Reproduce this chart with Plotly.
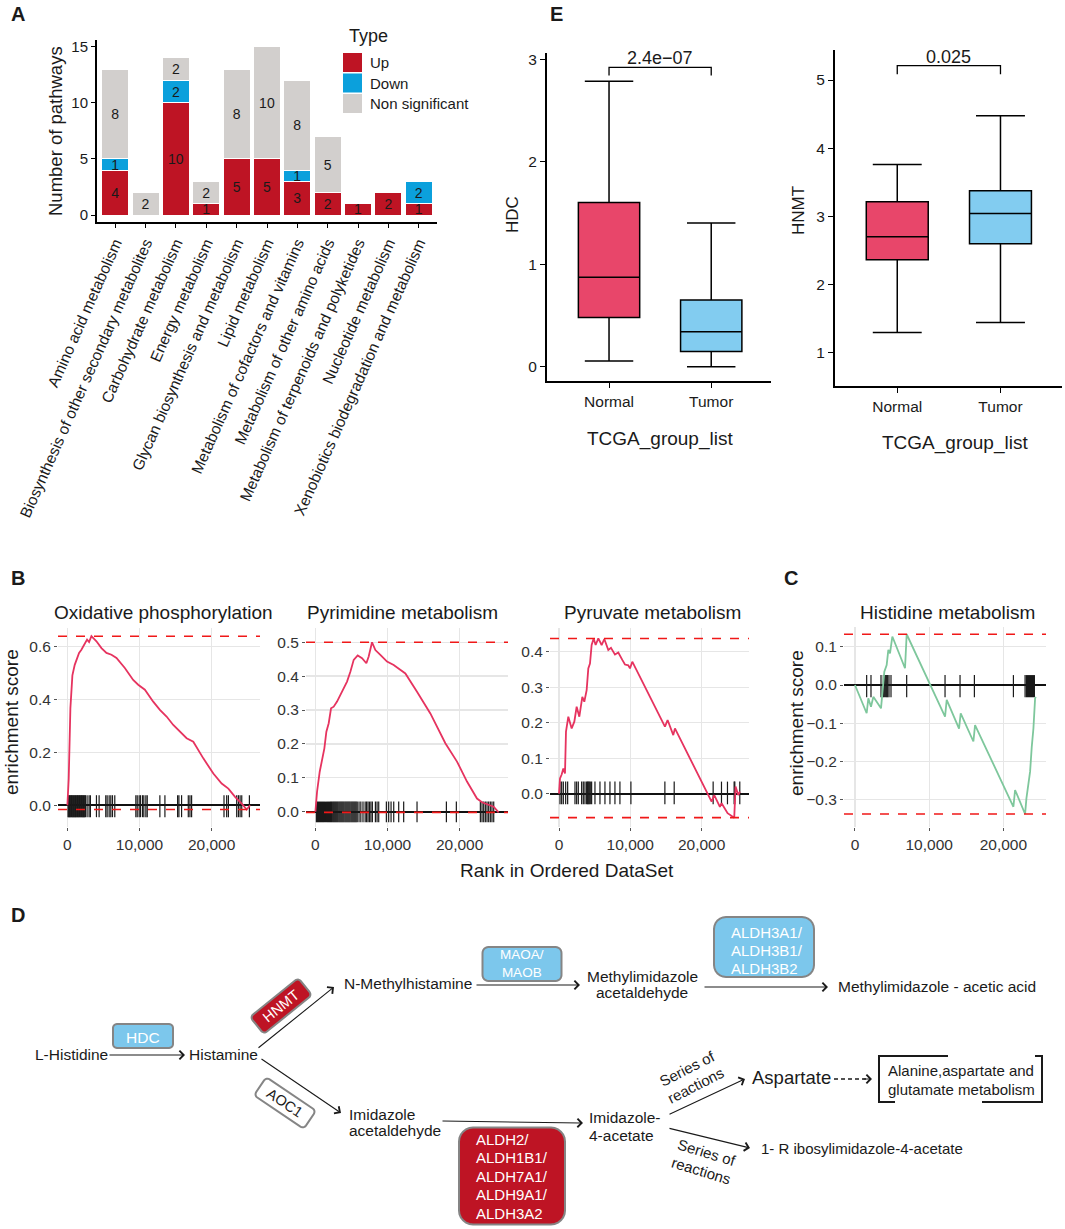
import math
import plotly.graph_objects as go

W, H = 1065, 1229
FONT = "Liberation Sans, Arial, Helvetica, sans-serif"

# ---------------- Panel A data ----------------
pathway_classes = [
    "Amino acid metabolism",
    "Biosynthesis of other secondary metabolites",
    "Carbohydrate metabolism",
    "Energy metabolism",
    "Glycan biosynthesis and metabolism",
    "Lipid metabolism",
    "Metabolism of cofactors and vitamins",
    "Metabolism of other amino acids",
    "Metabolism of terpenoids and polyketides",
    "Nucleotide metabolism",
    "Xenobiotics biodegradation and metabolism",
]
up_counts = [4, 0, 10, 1, 5, 5, 3, 2, 1, 2, 1]
down_counts = [1, 0, 2, 0, 0, 0, 1, 0, 0, 0, 2]
ns_counts = [8, 2, 2, 2, 8, 10, 8, 5, 0, 0, 0]
type_names = ["Up", "Down", "Non significant"]
a_yticks = [0, 5, 10, 15]

# ---------------- Panel E data ----------------
groups = ["Normal", "Tumor"]
hdc_lower = [0.056, 0.0]
hdc_q1 = [0.48, 0.147]
hdc_median = [0.873, 0.34]
hdc_q3 = [1.601, 0.65]
hdc_upper = [2.784, 1.402]
hdc_pvalue = "2.4e\u221207"
hdc_yticks = [0, 1, 2, 3]

hnmt_lower = [1.295, 1.443]
hnmt_q1 = [2.363, 2.599]
hnmt_median = [2.70, 3.042]
hnmt_q3 = [3.214, 3.376]
hnmt_upper = [3.76, 4.474]
hnmt_pvalue = "0.025"
hnmt_yticks = [1, 2, 3, 4, 5]

# ---------------- Panel B / C data (running enrichment score) ----------------
oxphos_rank = [0, 185, 417, 694, 1019, 1343, 1620, 1944, 2407, 2731, 3009, 3333, 4028, 4722,
               5417, 6111, 6806, 7963, 9120, 9815, 10741, 11898, 12824, 13750, 14676, 15602,
               16528, 17454, 18843, 20231, 21389, 22315, 23241, 24167, 24861, 25324]
oxphos_es = [0.0, 0.10, 0.366, 0.49, 0.53, 0.556, 0.575, 0.587, 0.612, 0.625, 0.616, 0.638, 0.619,
             0.593, 0.575, 0.568, 0.556, 0.518, 0.473, 0.455, 0.436, 0.391, 0.36, 0.335, 0.303,
             0.278, 0.253, 0.24, 0.177, 0.12, 0.082, 0.063, 0.032, 0.006, -0.016, 0.0]
oxphos_hits = [90, 180, 280, 370, 460, 560, 650, 740, 830, 930, 1020, 1110, 1200, 1300, 1390,
               1480, 1570, 1670, 1760, 1850, 1950, 2040, 2130, 2220, 2320, 2410, 2500, 2730,
               3010, 3190, 4030, 4400, 5320, 5510, 5790, 6020, 6250, 6570, 9490, 9680, 9950,
               10140, 10420, 10600, 10880, 11070, 12820, 13520, 15280, 15460, 15830, 16760,
               16990, 17220, 21710, 22080, 22320, 23470, 23710, 23940, 24170, 25230]

pyrim_rank = [0, 231, 600, 924, 1247, 1524, 1848, 2171, 2540, 3002, 3464, 3926, 4388, 4850,
              5312, 5866, 6467, 7067, 7390, 7852, 8314, 9007, 9931, 10855, 11778, 12471, 14088,
              15935, 18014, 19630, 21016, 22402, 23095, 24018, 24711, 25404]
pyrim_es = [0.0, 0.059, 0.118, 0.148, 0.187, 0.236, 0.261, 0.305, 0.31, 0.325, 0.344, 0.364,
            0.384, 0.413, 0.448, 0.461, 0.453, 0.438, 0.458, 0.50, 0.477, 0.463, 0.443, 0.433,
            0.418, 0.408, 0.354, 0.29, 0.202, 0.148, 0.089, 0.039, 0.028, 0.02, 0.015, -0.002]
pyrim_hits = [140, 280, 420, 560, 700, 840, 980, 1120, 1260, 1400, 1550, 1690, 1830, 1970, 2110,
              2250, 2400, 2540, 2680, 2820, 2960, 3100, 3250, 3390, 3530, 3670, 3810, 3950, 4100,
              4240, 4380, 4520, 4660, 4800, 4950, 5090, 5230, 5370, 5510, 5650, 5800, 6050, 6300,
              6600, 6900, 7100, 7300, 7500, 7700, 7900, 8320, 8550, 8780, 9840, 10160, 10490,
              10860, 11550, 12240, 14090, 18160, 19540, 22870, 23100, 23330, 23560, 23790, 24020,
              24250, 24480, 24720]

pyruv_rank = [0, 140, 374, 607, 841, 981, 1308, 1776, 2150, 2477, 2850, 3271, 3551, 3879, 4112,
              4346, 4579, 4860, 5140, 5514, 5981, 6355, 6916, 7290, 7850, 8318, 8879, 9252, 9720,
              9953, 10280, 14860, 15234, 16030, 16262, 21402, 21776, 22570, 22804, 23645, 24579,
              24766, 25140, 25374]
pyruv_es = [0.0, 0.043, 0.054, 0.071, 0.057, 0.175, 0.217, 0.184, 0.203, 0.245, 0.217, 0.273,
            0.259, 0.292, 0.353, 0.367, 0.419, 0.4375, 0.419, 0.4375, 0.419, 0.436, 0.405, 0.411,
            0.392, 0.398, 0.377, 0.364, 0.362, 0.353, 0.372, 0.189, 0.2075, 0.165, 0.184, -0.0225,
            -0.004, -0.037, -0.027, -0.055, -0.0676, 0.02, -0.004, 0.006]
pyruv_hits = [140, 374, 607, 934, 1214, 2242, 2475, 2709, 3176, 3409, 3643, 3876, 4016, 4110,
              4250, 4390, 4577, 5044, 5745, 6445, 7146, 7846, 8546, 10087, 14851, 16158, 21622,
              22790, 23630, 24564, 24658, 25358]

hist_rank = [0, 1573, 1798, 2157, 2472, 3506, 3955, 4270, 4494, 4719, 5034, 6742, 6966, 12135,
             12360, 14022, 14247, 15955, 16180, 21348, 21573, 22921, 23101, 23371, 23596, 23820,
             24045, 24270, 24360]
hist_es = [0.0, -0.074, -0.035, -0.057, -0.031, -0.061, 0.035, 0.052, 0.092, 0.083, 0.127, 0.044,
           0.133, -0.083, -0.039, -0.114, -0.074, -0.148, -0.105, -0.319, -0.275, -0.338, -0.297,
           -0.262, -0.227, -0.162, -0.114, -0.035, -0.031]
hist_hits = [1573, 2157, 3506, 3820, 3955, 4135, 4270, 4404, 4584, 4854, 6966, 12135, 14157, 16090,
             21348, 22921, 23101, 23236, 23371, 23506, 23641, 23775, 23910, 24045, 24180]

gsea_titles = ["Oxidative phosphorylation", "Pyrimidine metabolism", "Pyruvate metabolism",
               "Histidine metabolism"]
rank_ticks = [0, 10000, 20000]

# ---------------- Panel D labels ----------------
metabolites = ["L-Histidine", "Histamine", "N-Methylhistamine", "Imidazole", "acetaldehyde",
               "Methylimidazole", "acetaldehyde", "Methylimidazole - acetic acid",
               "Imidazole-", "4-acetate", "Aspartate", "1- R ibosylimidazole-4-acetate"]
pathway_box_lines = ["Alanine,aspartate and", "glutamate metabolism"]
enzyme_hdc = "HDC"
enzyme_hnmt = "HNMT"
enzyme_aoc1 = "AOC1"
enzyme_mao = ["MAOA/", "MAOB"]
enzyme_aldh3 = ["ALDH3A1/", "ALDH3B1/", "ALDH3B2"]
enzyme_aldh = ["ALDH2/", "ALDH1B1/", "ALDH7A1/", "ALDH9A1/", "ALDH3A2"]
reaction_label = ["Series of", "reactions"]

# ---------------- styles ----------------
C_UP, C_DOWN, C_NS = "#BE1424", "#0BA0DC", "#D2CFCD"
C_NORMAL, C_TUMOR = "#E8466A", "#82CCF0"
C_RED_CURVE, C_GREEN_CURVE = "#E6335F", "#7EC79C"
C_BOX_BLUE, C_BOX_RED, C_BOX_EDGE = "#7CC7EC", "#BE1424", "#858585"
TXT = "#1a1a1a"


def dx(l, r):
    return [l / W, r / W]


def dy(t, b):
    return [1 - b / H, 1 - t / H]


fig = go.Figure()
shapes = []
annotations = []


def text(x, y, s, size=15.5, color=TXT, xanchor="center", angle=0, bold=False, family=FONT):
    annotations.append(dict(
        x=x / W, y=1 - y / H, xref="paper", yref="paper", text=("<b>%s</b>" % s) if bold else s,
        showarrow=False, xanchor=xanchor, yanchor="middle", textangle=angle,
        font=dict(size=size, color=color, family=family)))


# ================= Panel A =================
for name, vals, col in zip(type_names, [up_counts, down_counts, ns_counts], [C_UP, C_DOWN, C_NS]):
    fig.add_trace(go.Bar(
        x=pathway_classes, y=vals, name=name, width=0.89,
        marker=dict(color=col, line=dict(color="white", width=1)),
        text=[str(v) if v > 0 else "" for v in vals], textposition="inside",
        insidetextanchor="middle", textangle=0,
        textfont=dict(size=14, color=TXT, family=FONT),
        xaxis="x", yaxis="y", showlegend=False, hoverinfo="skip"))

# manual legend (ggplot style)
text(347, 36, "Type", size=18, xanchor="left")
for i, (name, col) in enumerate(zip(type_names, [C_UP, C_DOWN, C_NS])):
    top = 53 + i * 20.5
    shapes.append(dict(type="rect", xref="paper", yref="paper", x0=343 / W, x1=362 / W,
                       y0=1 - (top + 19) / H, y1=1 - top / H, fillcolor=col,
                       line=dict(width=0)))
    text(368, top + 9.5, name, size=15, xanchor="left")

text(56, 131, "Number of pathways", size=18.5, angle=-90)

# ================= Panel E =================
for axn, (lo, q1, med, q3, hi) in zip(
        ["2", "3"],
        [(hdc_lower, hdc_q1, hdc_median, hdc_q3, hdc_upper),
         (hnmt_lower, hnmt_q1, hnmt_median, hnmt_q3, hnmt_upper)]):
    for i, g in enumerate(groups):
        fig.add_trace(go.Box(
            x=[g], lowerfence=[lo[i]], q1=[q1[i]], median=[med[i]], q3=[q3[i]],
            upperfence=[hi[i]], fillcolor=[C_NORMAL, C_TUMOR][i],
            line=dict(color="black", width=1.5), width=0.6, whiskerwidth=0.79,
            boxpoints=False, xaxis="x" + axn, yaxis="y" + axn, showlegend=False,
            hoverinfo="skip"))

# significance brackets
for axn, ybar, ytip, pv in [("2", 2.92, 2.84, hdc_pvalue), ("3", 5.21, 5.085, hnmt_pvalue)]:
    fig.add_trace(go.Scatter(
        x=[groups[0], groups[0], groups[1], groups[1]], y=[ytip, ybar, ybar, ytip],
        mode="lines", line=dict(color="black", width=1.3), xaxis="x" + axn, yaxis="y" + axn,
        showlegend=False, hoverinfo="skip"))
    annotations.append(dict(x=0.5, y=ybar, xref="x" + axn, yref="y" + axn, text=pv,
                            showarrow=False, yanchor="bottom", yshift=-3,
                            font=dict(size=18, color=TXT, family=FONT)))

text(512, 215, "HDC", size=17, angle=-90)
text(798, 211, "HNMT", size=17, angle=-90)
text(660, 439, "TCGA_group_list", size=19)
text(955, 443, "TCGA_group_list", size=19)

# ================= Panels B & C =================
gsea = [
    ("4", oxphos_rank, oxphos_es, oxphos_hits, C_RED_CURVE, (0.038, -0.045)),
    ("5", pyrim_rank, pyrim_es, pyrim_hits, C_RED_CURVE, (0.030, -0.031)),
    ("6", pyruv_rank, pyruv_es, pyruv_hits, C_RED_CURVE, (0.034, -0.030)),
    ("7", hist_rank, hist_es, hist_hits, C_GREEN_CURVE, (0.026, -0.032)),
]
for axn, rk, es, hits, col, (rhi, rlo) in gsea:
    rx, ry = [], []
    for h in hits:
        rx += [h, h, None]
        ry += [rlo, rhi, None]
    fig.add_trace(go.Scatter(x=rx, y=ry, mode="lines", line=dict(color="#1a1a1a", width=1.2),
                             xaxis="x" + axn, yaxis="y" + axn, showlegend=False,
                             hoverinfo="skip"))
    fig.add_trace(go.Scatter(x=rk, y=es, mode="lines", line=dict(color=col, width=1.8),
                             xaxis="x" + axn, yaxis="y" + axn, showlegend=False,
                             hoverinfo="skip"))
    for yv in (max(es), min(es)):
        shapes.append(dict(type="line", xref="x%s domain" % axn, yref="y" + axn, x0=0, x1=1,
                           y0=yv, y1=yv, line=dict(color="#F01818", width=1.6, dash="dash")))

for (cx, cy), t in zip([(163, 612), (402, 612), (652, 612), (947, 612)], gsea_titles):
    text(cx, cy, t, size=19)
text(11, 722, "enrichment score", size=19, angle=-90)
text(796, 723, "enrichment score", size=19, angle=-90)
text(567, 870, "Rank in Ordered DataSet", size=19)

# ================= Panel letters =================
for lt, (lx, ly) in zip("AEBCD", [(18, 14), (556, 14), (18, 578), (791, 578), (18, 915)]):
    text(lx, ly, lt, size=20, bold=True)


# ================= Panel D (pathway diagram) =================
def rrect_path(cx, cy, w, h, r, ang):
    a = math.radians(ang)
    ca, sa = math.cos(a), math.sin(a)
    pts = []
    for ox, oy, start in [(w / 2 - r, h / 2 - r, 0), (-w / 2 + r, h / 2 - r, 90),
                          (-w / 2 + r, -h / 2 + r, 180), (w / 2 - r, -h / 2 + r, 270)]:
        for k in range(7):
            t = math.radians(start + 15 * k)
            lx, ly = ox + r * math.cos(t), oy + r * math.sin(t)
            X = cx + lx * ca - ly * sa
            Y = cy + lx * sa + ly * ca
            pts.append((X / W, 1 - Y / H))
    return "M " + " L ".join("%.5f,%.5f" % p for p in pts) + " Z"


def box(cx, cy, w, h, r, ang, fill):
    shapes.append(dict(type="path", xref="paper", yref="paper", path=rrect_path(cx, cy, w, h, r, ang),
                       fillcolor=fill, line=dict(color=C_BOX_EDGE, width=2)))


def arrow(tx, ty, hx, hy):
    annotations.append(dict(x=hx / W, y=1 - hy / H, xref="paper", yref="paper",
                            ax=tx - hx, ay=ty - hy, axref="pixel", ayref="pixel", text="",
                            showarrow=True, arrowhead=4, arrowsize=1.5, arrowwidth=1.1,
                            arrowcolor=TXT))


def polyline(pts, dash="solid", width=1.6):
    path = "M " + " L ".join("%.5f,%.5f" % (x / W, 1 - y / H) for x, y in pts)
    shapes.append(dict(type="path", xref="paper", yref="paper", path=path,
                       fillcolor="rgba(0,0,0,0)", line=dict(color=TXT, width=width, dash=dash)))


# enzyme boxes
box(143, 1036, 60, 24, 4, 0, C_BOX_BLUE)
text(143, 1037, enzyme_hdc, size=15.5, color="white")
box(281, 1006, 62, 22, 4, -39, C_BOX_RED)
text(281, 1006, enzyme_hnmt, size=14.5, color="white", angle=-39)
box(285, 1103, 60, 22, 4, 34, "white")
text(285, 1103, enzyme_aoc1, size=14.5, color=TXT, angle=34)
box(522, 964, 79, 34, 6, 0, C_BOX_BLUE)
text(522, 964, "<br>".join(enzyme_mao), size=13.5, color="white")
box(764, 947, 100, 60, 12, 0, C_BOX_BLUE)
for i, s in enumerate(enzyme_aldh3):
    text(729, 932 + 18 * i, s, size=15, color="white", xanchor="left")
box(512, 1176, 106, 97, 14, 0, C_BOX_RED)
for i, s in enumerate(enzyme_aldh):
    text(474, 1139 + 18.5 * i, s, size=15, color="white", xanchor="left")

# metabolites
text(33, 1054, metabolites[0], xanchor="left")
text(187, 1054, metabolites[1], xanchor="left")
text(342, 983, metabolites[2], xanchor="left")
text(347, 1114, metabolites[3], xanchor="left")
text(347, 1130, metabolites[4], xanchor="left")
text(642, 976, metabolites[5])
text(642, 992, metabolites[6])
text(836, 986, metabolites[7], xanchor="left")
text(587, 1117, metabolites[8], xanchor="left")
text(587, 1135, metabolites[9], xanchor="left")
text(750, 1077, metabolites[10], size=18.5, xanchor="left")
text(759, 1148, metabolites[11], xanchor="left", size=15)

# arrows
arrow(108, 1055, 185, 1055)
arrow(257, 1049, 334, 987)
arrow(260, 1058, 341, 1113)
arrow(475, 985, 580, 985)
arrow(703, 987, 828, 987)
arrow(441, 1121, 583, 1123)
arrow(668, 1115, 745, 1079)
arrow(668, 1128, 750, 1148)
polyline([(834, 1079), (866, 1079)], dash="4px,3px", width=1.3)
arrow(862, 1079, 872, 1079)

# reaction labels
text(687, 1068, reaction_label[0], size=15, angle=-27)
text(695, 1085, reaction_label[1], size=15, angle=-27)
text(707, 1152, reaction_label[0], size=15, angle=17)
text(701, 1170, reaction_label[1], size=15, angle=17)

# bracket box around linked pathway
polyline([(948, 1056), (879, 1056), (879, 1102), (895, 1102)], width=2)
polyline([(1035, 1056), (1042, 1056), (1042, 1102), (982, 1102)], width=2)
text(886, 1070, pathway_box_lines[0], size=15, xanchor="left")
text(886, 1089, pathway_box_lines[1], size=15, xanchor="left")

# ================= Layout / axes =================
axis_common = dict(automargin=False, zeroline=False, showgrid=False)
gsea_x = dict(automargin=False, showgrid=True, gridcolor="#E6E6E6", gridwidth=1.3, zeroline=False,
              showline=False, tickvals=rank_ticks, tickformat=",d", ticks="outside", ticklen=3,
              tickcolor="#555", tickfont=dict(size=15.5, color="#333", family=FONT))
gsea_y = dict(automargin=False, showgrid=True, gridcolor="#E6E6E6", gridwidth=1.3, zeroline=True,
              zerolinecolor="#111", zerolinewidth=1.8, showline=False, tickformat=".1f",
              ticks="outside", ticklen=3, tickcolor="#555",
              tickfont=dict(size=15.5, color="#333", family=FONT))

fig.update_layout(
    width=W, height=H, margin=dict(l=0, r=0, t=0, b=0), template="none",
    paper_bgcolor="white", plot_bgcolor="rgba(0,0,0,0)", barmode="stack",
    font=dict(family=FONT, color=TXT), showlegend=False,
    uniformtext=dict(minsize=14, mode="show"),
    xaxis=dict(axis_common, domain=dx(97, 437), anchor="y", range=[-0.6, 10.6],
               type="category", categoryorder="array", categoryarray=pathway_classes,
               tickangle=-66, showline=True, linecolor="black", linewidth=2,
               ticks="outside", ticklen=4, tickcolor="black",
               tickfont=dict(size=15.5, color=TXT, family=FONT)),
    yaxis=dict(axis_common, domain=dy(40, 222), anchor="x", range=[-0.62, 15.6],
               tickvals=a_yticks, showline=True, linecolor="black", linewidth=2,
               ticks="outside", ticklen=4, tickcolor="black",
               tickfont=dict(size=15, color=TXT, family=FONT)),
    xaxis2=dict(axis_common, domain=dx(547, 771), anchor="y2", range=[-0.607, 1.585],
                type="category", categoryorder="array", categoryarray=groups,
                showline=True, linecolor="black", linewidth=2, ticks="outside", ticklen=5,
                tickcolor="black", tickfont=dict(size=15.5, color=TXT, family=FONT)),
    yaxis2=dict(axis_common, domain=dy(53, 381), anchor="x2", range=[-0.14, 3.06],
                tickvals=hdc_yticks, showline=True, linecolor="black", linewidth=2,
                ticks="outside", ticklen=5, tickcolor="black",
                tickfont=dict(size=15.5, color=TXT, family=FONT)),
    xaxis3=dict(axis_common, domain=dx(835, 1062), anchor="y3", range=[-0.603, 1.596],
                type="category", categoryorder="array", categoryarray=groups,
                showline=True, linecolor="black", linewidth=2, ticks="outside", ticklen=5,
                tickcolor="black", tickfont=dict(size=15.5, color=TXT, family=FONT)),
    yaxis3=dict(axis_common, domain=dy(50, 386), anchor="x3", range=[0.512, 5.44],
                tickvals=hnmt_yticks, showline=True, linecolor="black", linewidth=2,
                ticks="outside", ticklen=5, tickcolor="black",
                tickfont=dict(size=15.5, color=TXT, family=FONT)),
    xaxis4=dict(gsea_x, domain=dx(58, 260), anchor="y4", range=[-1300, 26700]),
    yaxis4=dict(gsea_y, domain=dy(628, 827), anchor="x4", range=[-0.082, 0.669],
                tickvals=[0.0, 0.2, 0.4, 0.6]),
    xaxis5=dict(gsea_x, domain=dx(306, 508), anchor="y5", range=[-1300, 26700]),
    yaxis5=dict(gsea_y, domain=dy(628, 827), anchor="x5", range=[-0.045, 0.542],
                tickvals=[0.0, 0.1, 0.2, 0.3, 0.4, 0.5]),
    xaxis6=dict(gsea_x, domain=dx(550, 749), anchor="y6", range=[-1262, 26650]),
    yaxis6=dict(gsea_y, domain=dy(628, 827), anchor="x6", range=[-0.094, 0.467],
                tickvals=[0.0, 0.1, 0.2, 0.3, 0.4]),
    xaxis7=dict(gsea_x, domain=dx(844, 1046), anchor="y7", range=[-1480, 25740]),
    yaxis7=dict(gsea_y, domain=dy(627, 827), anchor="x7", range=[-0.372, 0.152],
                tickvals=[-0.3, -0.2, -0.1, 0.0, 0.1]),
    shapes=shapes,
    annotations=annotations,
)

fig.write_html(
    "out.html",
    config={"displayModeBar": False, "staticPlot": True},
    post_script="document.body.style.margin='0px';document.body.style.overflow='hidden';",
)
